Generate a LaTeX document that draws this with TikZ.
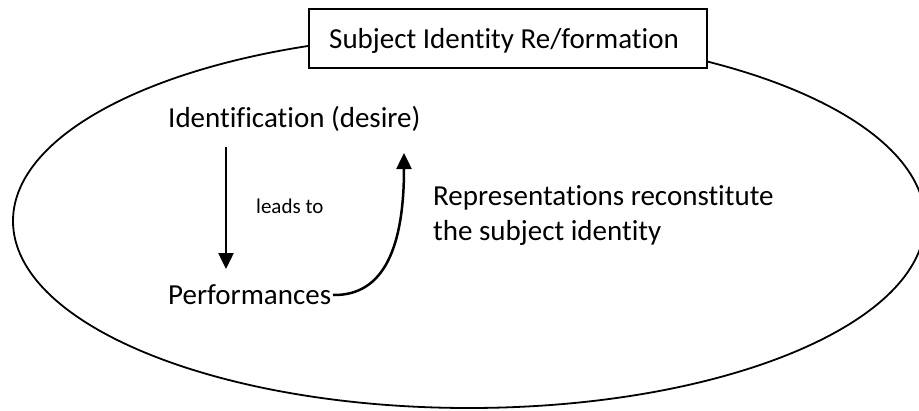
\documentclass[tikz,border=0pt]{standalone}
\usepackage{fontspec}
\setmainfont{Carlito}[Ligatures=NoCommon]
\usetikzlibrary{arrows.meta}
\tikzset{
  lbl/.style={anchor=base west, inner sep=0pt, font=\fontsize{29}{35.4}\selectfont},
  small/.style={anchor=base west, inner sep=0pt, font=\fontsize{21}{25}\selectfont},
  conn/.style={line width=2.5pt, -{Triangle[length=16pt,width=15pt]}},
  outline/.style={draw=black, line width=1.8pt},
  titlebox/.style={draw=black, line width=2.2pt, fill=white}
}
\begin{document}
\begin{tikzpicture}[x=1pt,y=-1pt]
\useasboundingbox (0,0) rectangle (919,410);
\begin{scope}
\clip (0,0) rectangle (919,410);
\draw[outline] (469,221) ellipse [x radius=456, y radius=187];
\end{scope}
\path[titlebox] (309,9) rectangle (707,68);
\node[lbl] (title) at (329,48) {Subject Identity Re/formation};
\node[lbl] (ident) at (168,127) {Identification (desire)};
\node[small] (leads) at (256,213) {leads to};
\node[lbl] (perf) at (168,304) {Performances};
\node[lbl] (repr1) at (433,205) {Representations reconstitute};
\node[lbl] (repr2) at (433,240) {the subject identity};
\coordinate (dtop) at (226,147);
\coordinate (dbot) at (226,269);
\coordinate (cstart) at (333,295);
\coordinate (cend) at (404,153);
\draw[conn] (dtop) -- (dbot);
\draw[conn] (cstart) .. controls (385,296) and (404,245) .. (cend);
\end{tikzpicture}
\end{document}
